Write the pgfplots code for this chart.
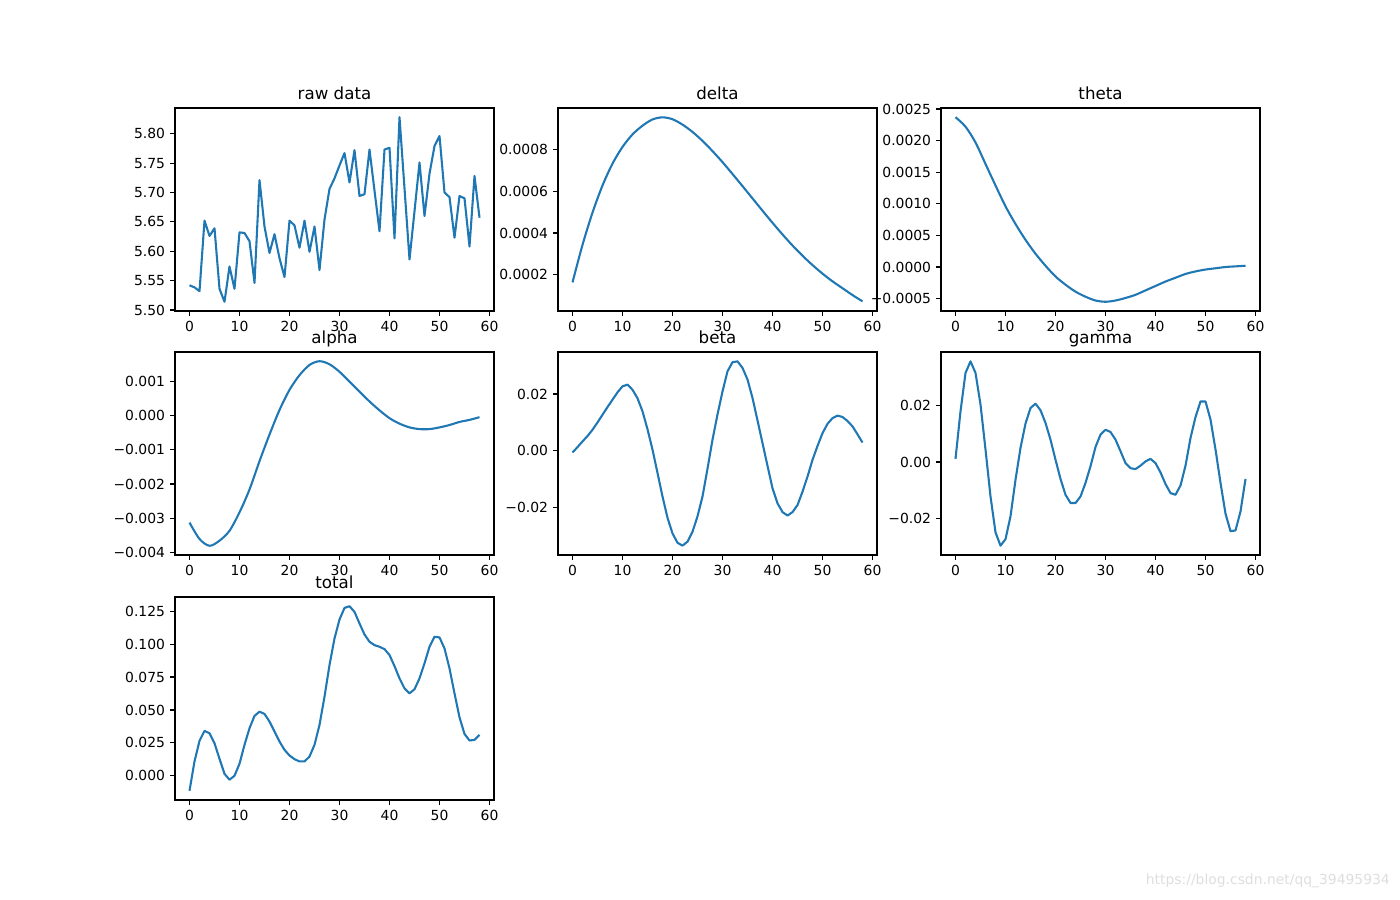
\documentclass[border=0pt]{standalone}
\usepackage{pgfplots}
\pgfplotsset{compat=1.18}
\usepackage{fontspec}
\setmainfont{DejaVu Sans}
\definecolor{c0}{HTML}{1F77B4}
\pgfplotsset{
  mpl/.style={
    scale only axis, width=229.68pt, height=146.16pt,
    anchor=south west,
    xmin=-2.9, xmax=60.9, xtick={0,10,...,60},
    xticklabels={0,10,20,30,40,50,60},
    scaled ticks=false,
    tick align=outside, major tick length=3.5pt,
    xtick pos=bottom, ytick pos=left,
    tick style={black, line width=0.8pt},
    axis line style={line width=0.8pt},
    tick label style={font=\fontsize{10}{12}\selectfont, inner sep=0pt},
    xticklabel style={yshift=-3.5pt},
    yticklabel style={xshift=-3.5pt},
    title style={font=\fontsize{12}{14}\selectfont, anchor=base, at={(0.5,1)}, inner sep=0pt},
  },
  mline/.style={color=c0, line width=1.5pt, line join=round, mark=none},
}
\begin{document}
\begin{tikzpicture}
\path[use as bounding box] (0,0) rectangle (1008pt,647.28pt);
% raw data
\begin{axis}[mpl, at={(126pt,423.36pt)}, title={raw data},
  ymin=5.4983, ymax=5.8437,
  ytick={5.50,5.55,5.60,5.65,5.70,5.75,5.80},
  yticklabels={5.50,5.55,5.60,5.65,5.70,5.75,5.80}]
\addplot[mline] table {
x y
0 5.542
1 5.5385
2 5.532
3 5.652
4 5.626
5 5.639
6 5.536
7 5.514
8 5.574
9 5.536
10 5.632
11 5.631
12 5.617
13 5.546
14 5.721
15 5.642
16 5.597
17 5.629
18 5.588
19 5.556
20 5.652
21 5.644
22 5.606
23 5.652
24 5.599
25 5.642
26 5.568
27 5.654
28 5.706
29 5.724
30 5.746
31 5.767
32 5.717
33 5.772
34 5.694
35 5.697
36 5.773
37 5.703
38 5.634
39 5.773
40 5.776
41 5.622
42 5.828
43 5.707
44 5.586
45 5.668
46 5.751
47 5.660
48 5.732
49 5.779
50 5.796
51 5.700
52 5.692
53 5.623
54 5.694
55 5.690
56 5.608
57 5.728
58 5.657
};
\end{axis}
% delta
\begin{axis}[mpl, at={(401.76pt,423.36pt)}, title={delta},
  ymin=0.0000257, ymax=0.0009999,
  ytick={0.0002,0.0004,0.0006,0.0008},
  yticklabels={0.0002,0.0004,0.0006,0.0008}]
\addplot[mline, smooth] table {
x y
0 0.000163
2 0.000343
4 0.000498
6 0.000628
8 0.000733
10 0.000813
12 0.000873
14 0.000915
16 0.000945
18 0.000955
20 0.000946
22 0.000920
24 0.000885
26 0.000842
28 0.000793
30 0.000740
32 0.000683
34 0.000625
36 0.000566
38 0.000507
40 0.000449
42 0.000393
44 0.000340
46 0.000291
48 0.000246
50 0.000205
52 0.000168
54 0.000135
56 0.000102
58 0.000072
};
\end{axis}
% theta
\begin{axis}[mpl, at={(677.52pt,423.36pt)}, title={theta},
  ymin=-0.000696, ymax=0.002516,
  ytick={-0.0005,0,0.0005,0.0010,0.0015,0.0020,0.0025},
  yticklabels={−0.0005,0.0000,0.0005,0.0010,0.0015,0.0020,0.0025}]
\addplot[mline, smooth] table {
x y
0 0.00237
2 0.00222
4 0.00197
6 0.00163
8 0.00129
10 0.00096
12 0.00068
14 0.00043
16 0.00021
18 0.00002
20 -0.00015
22 -0.00028
24 -0.00039
26 -0.00047
28 -0.00053
30 -0.00055
32 -0.00053
34 -0.00049
36 -0.00044
38 -0.00037
40 -0.00030
42 -0.00023
44 -0.00017
46 -0.00011
48 -0.00007
50 -0.00004
52 -0.00002
54 0.0
56 0.00001
58 0.00002
};
\end{axis}
% alpha
\begin{axis}[mpl, at={(126pt,247.68pt)}, title={alpha},
  ymin=-0.00408, ymax=0.00187,
  ytick={-0.004,-0.003,-0.002,-0.001,0,0.001},
  yticklabels={−0.004,−0.003,−0.002,−0.001,0.000,0.001}]
\addplot[mline, smooth] table {
x y
0 -0.00313
2 -0.00361
4 -0.00381
6 -0.00366
8 -0.00337
10 -0.00283
12 -0.00216
14 -0.00133
16 -0.00055
18 0.00017
20 0.00076
22 0.00119
24 0.00149
26 0.00160
28 0.00151
30 0.00129
32 0.00100
34 0.00071
36 0.00042
38 0.00016
40 -0.00007
42 -0.00023
44 -0.00034
46 -0.00039
48 -0.00039
50 -0.00034
52 -0.00027
54 -0.00018
56 -0.00012
58 -0.00004
};
\end{axis}
% beta
\begin{axis}[mpl, at={(401.76pt,247.68pt)}, title={beta},
  ymin=-0.0367, ymax=0.0348,
  ytick={-0.02,0,0.02},
  yticklabels={−0.02,0.00,0.02}]
\addplot[mline] table {
x y
0 -0.0006
1 0.0013
2 0.0033
3 0.0052
4 0.0074
5 0.0100
6 0.0127
7 0.0154
8 0.0180
9 0.0206
10 0.0227
11 0.0233
12 0.0215
13 0.0185
14 0.0139
15 0.0076
16 0.0004
17 -0.0078
18 -0.0161
19 -0.0236
20 -0.0291
21 -0.0324
22 -0.0334
23 -0.0320
24 -0.0285
25 -0.0231
26 -0.0161
27 -0.0063
28 0.0039
29 0.0128
30 0.0209
31 0.0280
32 0.0312
33 0.0315
34 0.0292
35 0.0251
36 0.0186
37 0.0107
38 0.0027
39 -0.0053
40 -0.0132
41 -0.0185
42 -0.0216
43 -0.0228
44 -0.0216
45 -0.0191
46 -0.0144
47 -0.0091
48 -0.0032
49 0.0017
50 0.0062
51 0.0095
52 0.0115
53 0.0124
54 0.0119
55 0.0105
56 0.0086
57 0.0058
58 0.0029
};
\end{axis}
% gamma
\begin{axis}[mpl, at={(677.52pt,247.68pt)}, title={gamma},
  ymin=-0.0329, ymax=0.0389,
  ytick={-0.02,0,0.02},
  yticklabels={−0.02,0.00,0.02}]
\addplot[mline] table {
x y
0 0.0011
1 0.0179
2 0.0315
3 0.0356
4 0.0315
5 0.0203
6 0.0044
7 -0.0122
8 -0.0249
9 -0.0296
10 -0.0273
11 -0.0192
12 -0.0063
13 0.0050
14 0.0136
15 0.0191
16 0.0206
17 0.0183
18 0.0138
19 0.0079
20 0.0008
21 -0.0060
22 -0.0116
23 -0.0145
24 -0.0145
25 -0.0122
26 -0.0074
27 -0.0015
28 0.0053
29 0.0097
30 0.0114
31 0.0106
32 0.0079
33 0.0038
34 -0.0004
35 -0.0022
36 -0.0025
37 -0.0013
38 0.0002
39 0.0011
40 -0.0004
41 -0.0037
42 -0.0078
43 -0.0110
44 -0.0116
45 -0.0083
46 -0.0013
47 0.0085
48 0.0159
49 0.0214
50 0.0214
51 0.0150
52 0.0044
53 -0.0074
54 -0.0183
55 -0.0245
56 -0.0242
57 -0.0175
58 -0.0060
};
\end{axis}
% total
\begin{axis}[mpl, at={(126pt,71.28pt)}, title={total},
  ymin=-0.0184, ymax=0.1358,
  ytick={0,0.025,0.05,0.075,0.1,0.125},
  yticklabels={0.000,0.025,0.050,0.075,0.100,0.125}]
\addplot[mline] table {
x y
0 -0.0114
1 0.0109
2 0.0265
3 0.0341
4 0.0323
5 0.0247
6 0.0129
7 0.0015
8 -0.0030
9 0.0000
10 0.0091
11 0.0235
12 0.0361
13 0.0455
14 0.0487
15 0.0470
16 0.0412
17 0.0336
18 0.0260
19 0.0197
20 0.0154
21 0.0126
22 0.0109
23 0.0109
24 0.0146
25 0.0235
26 0.0386
27 0.0601
28 0.0841
29 0.1043
30 0.1187
31 0.1275
32 0.1288
33 0.1245
34 0.1157
35 0.1073
36 0.1018
37 0.0992
38 0.0980
39 0.0962
40 0.0917
41 0.0833
42 0.0740
43 0.0664
44 0.0626
45 0.0657
46 0.0740
47 0.0854
48 0.0980
49 0.1056
50 0.1051
51 0.0967
52 0.0816
53 0.0626
54 0.0444
55 0.0318
56 0.0268
57 0.0273
58 0.0311
};
\end{axis}
\node[anchor=east, text=black!13, font=\fontsize{10}{12}\selectfont, inner sep=0pt] at (1000.8pt,12.96pt) {https://blog.csdn.net/qq\_39495934};
\end{tikzpicture}
\end{document}
